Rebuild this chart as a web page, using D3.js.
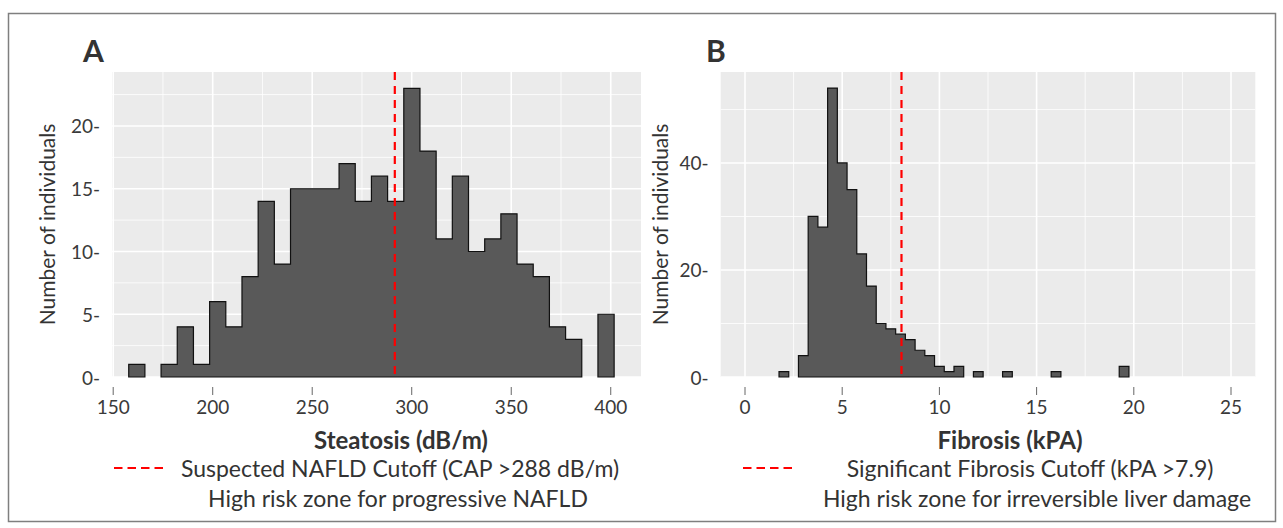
<!DOCTYPE html>
<html>
<head>
<meta charset="utf-8">
<script src="https://cdn.jsdelivr.net/npm/d3@7/dist/d3.min.js"></script>
<style>
  body { margin: 0; background: #fff; }
  text { font-family: Lato, "Open Sans", sans-serif; fill: #333; }
</style>
</head>
<body>
<div id="chart"></div>
<script>
// steatosis (CAP, dB/m) histogram, 30 bins
const steatosisBinStart = 157.8;
const steatosisBinWidth = 8.13;
const steatosisCounts = [1, 0, 1, 4, 1, 6, 4, 8, 14, 9, 15, 15, 15, 17, 14, 16, 14, 23, 18, 11, 16, 10, 11, 13, 9, 8, 4, 3, 0, 5];
const steatosisXTicks = [150, 200, 250, 300, 350, 400];
const steatosisYTicks = [0, 5, 10, 15, 20];
const steatosisCutoff = 291.5;

// fibrosis (kPA) histogram, 0.5 kPA bins
const fibrosisBinStart = 1.75;
const fibrosisBinWidth = 0.5;
const fibrosisCounts = [1, 0, 4, 30, 28, 54, 40, 35, 23, 17, 10, 9, 8, 7, 5, 4, 2, 1, 2, 0, 1, 0, 0, 1, 0, 0, 0, 0, 1, 0, 0, 0, 0, 0, 0, 2];
const fibrosisXTicks = [0, 5, 10, 15, 20, 25];
const fibrosisYTicks = [0, 20, 40];
const fibrosisCutoff = 8.05;

const width = 1283;
const height = 528;

const svg = d3.select("#chart")
  .append("svg")
  .attr("width", width)
  .attr("height", height);

// outer frame
svg.append("rect")
  .attr("x", 8.5).attr("y", 13.5)
  .attr("width", 1267).attr("height", 508)
  .attr("fill", "none")
  .attr("stroke", "#7f7f7f")
  .attr("stroke-width", 1.5);

// split counts into runs of non-empty bins so the outline follows the silhouette
const toRuns = (counts, start, w) => {
  const out = [];
  let cur = null;
  counts.forEach((c, i) => {
    if (c > 0) {
      if (!cur) { cur = []; out.push(cur); }
      cur.push({ x0: start + i * w, x1: start + (i + 1) * w, c: c });
    } else {
      cur = null;
    }
  });
  return out;
};

const drawPanel = (p) => {
  const x = d3.scaleLinear().domain(p.xDomain).range([p.left, p.right]);
  const y = d3.scaleLinear().domain(p.yDomain).range([p.bottom, p.top]);
  const g = svg.append("g");

  g.append("rect")
    .attr("x", p.left).attr("y", p.top)
    .attr("width", p.right - p.left).attr("height", p.bottom - p.top)
    .attr("fill", "#ebebeb");

  // minor grid
  const xMinor = p.xTicks.slice(0, -1).map((t, i) => (t + p.xTicks[i + 1]) / 2);
  const yMinor = p.yTicks.map((t) => t + p.yStep / 2).filter((t) => t < p.yDomain[1]);
  g.selectAll(".xminor").data(xMinor).enter().append("line")
    .attr("x1", (d) => x(d)).attr("x2", (d) => x(d))
    .attr("y1", p.top).attr("y2", p.bottom)
    .attr("stroke", "#fff").attr("stroke-width", 0.8);
  g.selectAll(".yminor").data(yMinor).enter().append("line")
    .attr("x1", p.left).attr("x2", p.right)
    .attr("y1", (d) => y(d)).attr("y2", (d) => y(d))
    .attr("stroke", "#fff").attr("stroke-width", 0.8);

  // major grid
  g.selectAll(".xmajor").data(p.xTicks).enter().append("line")
    .attr("x1", (d) => x(d)).attr("x2", (d) => x(d))
    .attr("y1", p.top).attr("y2", p.bottom)
    .attr("stroke", "#fff").attr("stroke-width", 1.6);
  g.selectAll(".ymajor").data(p.yTicks).enter().append("line")
    .attr("x1", p.left).attr("x2", p.right)
    .attr("y1", (d) => y(d)).attr("y2", (d) => y(d))
    .attr("stroke", "#fff").attr("stroke-width", 1.6);

  // histogram
  const area = d3.area()
    .curve(d3.curveStepAfter)
    .x((d) => x(d.x))
    .y0(y(0))
    .y1((d) => y(d.c));

  toRuns(p.counts, p.binStart, p.binWidth).forEach((run) => {
    const pts = run.map((b) => ({ x: b.x0, c: b.c }));
    pts.push({ x: run[run.length - 1].x1, c: run[run.length - 1].c });
    g.append("path")
      .datum(pts)
      .attr("d", area)
      .attr("fill", "#595959")
      .attr("stroke", "#111")
      .attr("stroke-width", 1.2);
  });

  // cutoff line
  g.append("line")
    .attr("x1", x(p.cutoff)).attr("x2", x(p.cutoff))
    .attr("y1", p.top).attr("y2", p.bottom)
    .attr("stroke", "#ff0000")
    .attr("stroke-width", 2.2)
    .attr("stroke-dasharray", "8,6");

  // x ticks drawn a little below the panel
  g.selectAll(".xtick").data(p.xTicks).enter().append("line")
    .attr("x1", (d) => x(d)).attr("x2", (d) => x(d))
    .attr("y1", 387).attr("y2", 395)
    .attr("stroke", "#666").attr("stroke-width", 1);
  g.selectAll(".xlab").data(p.xTicks).enter().append("text")
    .attr("x", (d) => x(d))
    .attr("y", 406)
    .attr("text-anchor", "middle")
    .attr("dominant-baseline", "central")
    .style("font-size", "19px")
    .style("fill", "#3a3a3a")
    .text((d) => d);

  g.selectAll(".ylab").data(p.yTicks).enter().append("text")
    .attr("x", p.left - 12)
    .attr("y", (d) => y(d))
    .attr("text-anchor", "end")
    .attr("dominant-baseline", "central")
    .style("font-size", "19px")
    .style("fill", "#3a3a3a")
    .text((d) => d + "-");

  g.append("text")
    .attr("transform", `translate(${p.yTitleX},${(p.top + p.bottom) / 2}) rotate(-90)`)
    .attr("text-anchor", "middle")
    .attr("dominant-baseline", "central")
    .style("font-size", "21px")
    .text("Number of individuals");

  g.append("text")
    .attr("x", p.letterX).attr("y", 62)
    .style("font-size", "30px")
    .style("font-weight", "bold")
    .text(p.letter);

  g.append("text")
    .attr("x", p.titleX).attr("y", 439)
    .attr("text-anchor", "middle")
    .attr("dominant-baseline", "central")
    .style("font-size", "24px")
    .style("font-weight", "bold")
    .text(p.title);

  // legend
  g.append("line")
    .attr("x1", p.legendX0).attr("x2", p.legendX1)
    .attr("y1", 468).attr("y2", 468)
    .attr("stroke", "#ff0000")
    .attr("stroke-width", 2)
    .attr("stroke-dasharray", "8.5,5");
  g.append("text")
    .attr("x", p.legend1X).attr("y", 468)
    .attr("text-anchor", "middle")
    .attr("dominant-baseline", "central")
    .style("font-size", "23px")
    .text(p.legend1);
  g.append("text")
    .attr("x", p.legend2X).attr("y", 498)
    .attr("text-anchor", "middle")
    .attr("dominant-baseline", "central")
    .style("font-size", "23px")
    .text(p.legend2);
};

drawPanel({
  left: 112, right: 641, top: 72, bottom: 377,
  xDomain: [149.4, 415.2], yDomain: [0, 24.3], yStep: 5,
  xTicks: steatosisXTicks, yTicks: steatosisYTicks,
  counts: steatosisCounts, binStart: steatosisBinStart, binWidth: steatosisBinWidth,
  cutoff: steatosisCutoff,
  yTitleX: 46, letter: "A", letterX: 83,
  title: "Steatosis (dB/m)", titleX: 401,
  legendX0: 114, legendX1: 164,
  legend1: "Suspected NAFLD Cutoff (CAP >288 dB/m)", legend1X: 400,
  legend2: "High risk zone for progressive NAFLD", legend2X: 398
});

drawPanel({
  left: 720.7, right: 1255.3, top: 72, bottom: 377,
  xDomain: [-1.25, 26.25], yDomain: [0, 57], yStep: 20,
  xTicks: fibrosisXTicks, yTicks: fibrosisYTicks,
  counts: fibrosisCounts, binStart: fibrosisBinStart, binWidth: fibrosisBinWidth,
  cutoff: fibrosisCutoff,
  yTitleX: 659, letter: "B", letterX: 706,
  title: "Fibrosis (kPA)", titleX: 1010,
  legendX0: 743, legendX1: 793,
  legend1: "Significant Fibrosis Cutoff (kPA >7.9)", legend1X: 1030,
  legend2: "High risk zone for irreversible liver damage", legend2X: 1037
});
</script>
</body>
</html>
